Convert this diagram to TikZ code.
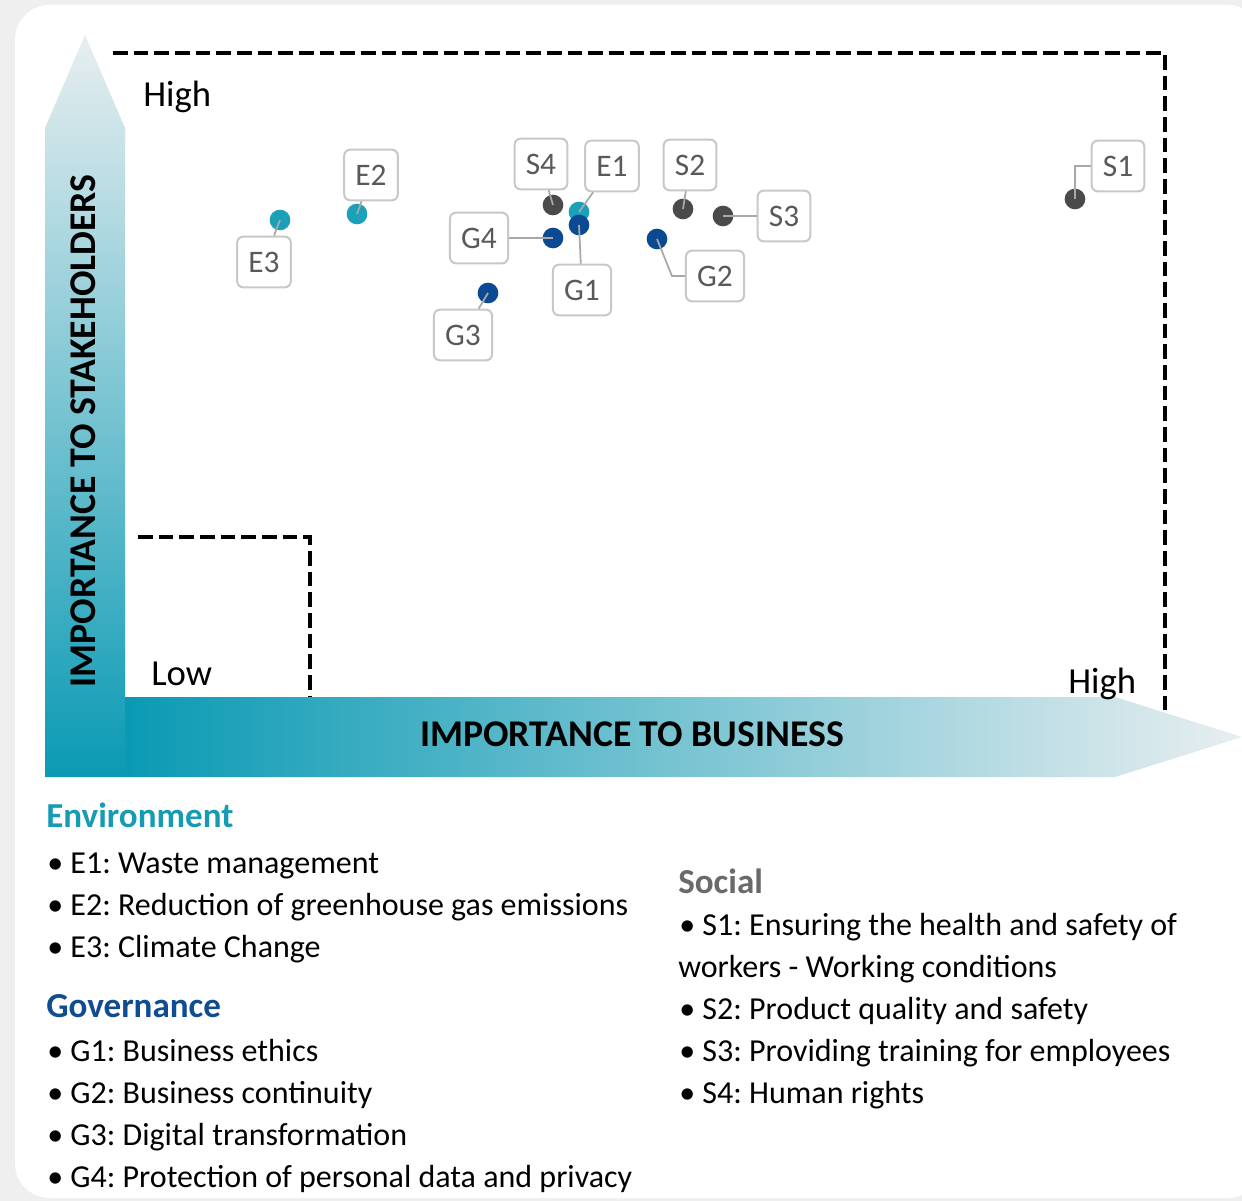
\documentclass[tikz,border=0pt]{standalone}
\usepackage{fontspec}
\setmainfont{Carlito}
\frenchspacing
\usetikzlibrary{calc}
\definecolor{bgGrey}{HTML}{EFEFEF}
\definecolor{tealD}{HTML}{0A9AB4}
\definecolor{paleA}{HTML}{E8EEF0}
\definecolor{envC}{HTML}{1AA0B8}
\definecolor{govC}{HTML}{0B4A93}
\definecolor{socC}{HTML}{4A4A4A}
\definecolor{envH}{HTML}{179BB5}
\definecolor{govH}{HTML}{0F4C92}
\definecolor{socH}{HTML}{6A6A6A}
\definecolor{boxB}{HTML}{C8C8C8}
\definecolor{boxT}{HTML}{595959}
\definecolor{conn}{HTML}{A8A8A8}
\begin{document}
\begin{tikzpicture}[x=0.75pt,y=-0.75pt,
  dotE/.style={circle,fill=envC,inner sep=0,minimum size=15.5},
  dotG/.style={circle,fill=govC,inner sep=0,minimum size=15.5},
  dotS/.style={circle,fill=socC,inner sep=0,minimum size=15.5},
  lbl/.style={draw=boxB,line width=1.5pt,fill=white,rounded corners=4.5pt,
    text=boxT,font=\fontsize{23.5}{26}\selectfont,inner xsep=8.4pt,minimum height=38pt},
  link/.style={draw=conn,line width=1.3pt},
  dashln/.style={line width=2.6pt,dash pattern=on 11pt off 4.5pt},
  legtxt/.style={anchor=base west,inner sep=0,font=\fontsize{24}{28}\selectfont},
  leghead/.style={anchor=base west,inner sep=0,font=\fontsize{26.3}{30}\selectfont\bfseries},
  hilo/.style={anchor=base west,inner sep=0,font=\fontsize{27.5}{32}\selectfont},
  axtitle/.style={inner sep=0,font=\fontsize{28.3}{34}\selectfont\bfseries}
]
\useasboundingbox (0,0) rectangle (1242,1201);
\fill[bgGrey] (0,0) rectangle (1242,1201);
\fill[white,rounded corners=26pt] (15,5) rectangle (1262,1198);

% dashed zones
\draw[dashln] (113,53) -- (1165,53) -- (1165,714);
\draw[dashln] (138,537) -- (310,537) -- (310,697);

% axes arrows
\shade[top color=paleA,bottom color=tealD]
  (45,777) -- (45,128) -- (85,35) -- (125,128) -- (125,777) -- cycle;
\shade[left color=tealD,right color=paleA]
  (125,697) -- (1115,697) -- (1242,737) -- (1115,777) -- (125,777) -- cycle;

\node[axtitle,rotate=90] (ay) at (83,431) {IMPORTANCE TO STAKEHOLDERS};
\node[axtitle] (ax) at (632,734) {IMPORTANCE TO BUSINESS};

\node[hilo] (hiY) at (143,107) {High};
\node[hilo] (lo) at (151,685) {Low};
\node[hilo] (hiX) at (1068,693) {High};

% points
\node[dotE] (dE3) at (280,220) {};
\node[dotE] (dE2) at (357,214) {};
\node[dotS] (dS4) at (553,205) {};
\node[dotE] (dE1) at (579,212) {};
\node[dotG] (dG1) at (579,225) {};
\node[dotG] (dG4) at (553,238) {};
\node[dotS] (dS2) at (683,209) {};
\node[dotS] (dS3) at (723,216) {};
\node[dotG] (dG2) at (657,239) {};
\node[dotG] (dG3) at (488,293) {};
\node[dotS] (dS1) at (1075,199) {};

% labels
\node[lbl] (bE3) at (264,262) {E3};
\node[lbl] (bE2) at (371,175) {E2};
\node[lbl] (bS4) at (541,164) {S4};
\node[lbl] (bE1) at (612,166) {E1};
\node[lbl] (bG1) at (582,290) {G1};
\node[lbl] (bG4) at (479,238) {G4};
\node[lbl] (bS2) at (690,165) {S2};
\node[lbl] (bS3) at (784,216) {S3};
\node[lbl] (bG2) at (715,276) {G2};
\node[lbl] (bG3) at (463,335) {G3};
\node[lbl] (bS1) at (1118,166) {S1};

% connectors
\draw[link] (dE3.center) -- (bE3);
\draw[link] (dE2.center) -- (bE2);
\draw[link] (dS4.center) -- (bS4);
\draw[link] (dE1.center) -- (bE1);
\draw[link] (dG1.center) -- (bG1);
\draw[link] (dG4.center) -- (bG4);
\draw[link] (dS2.center) -- (bS2);
\draw[link] (dS3.center) -- (bS3);
\draw[link] (dG2.center) -- ($(bG2.west)+(-13,0)$) -- (bG2.west);
\draw[link] (dG3.center) -- (bG3);
\draw[link] (dS1.center) |- (bS1.west);

% legend
\node[leghead,text=envH] (hE) at (46,827) {Environment};
\node[legtxt] (lE1) at (47,873) {• E1: Waste management};
\node[legtxt] (lE2) at (47,915) {• E2: Reduction of greenhouse gas emissions};
\node[legtxt] (lE3) at (47,957) {• E3: Climate Change};
\node[leghead,text=govH] (hG) at (46,1017) {Governance};
\node[legtxt] (lG1) at (47,1061) {• G1: Business ethics};
\node[legtxt] (lG2) at (47,1103) {• G2: Business continuity};
\node[legtxt] (lG3) at (47,1145) {• G3: Digital transformation};
\node[legtxt] (lG4) at (47,1187) {• G4: Protection of personal data and privacy};
\node[leghead,text=socH] (hS) at (678,893) {Social};
\node[legtxt] (lS1) at (679,935) {• S1: Ensuring the health and safety of};
\node[legtxt] (lS1b) at (678,977) {workers - Working conditions};
\node[legtxt] (lS2) at (679,1019) {• S2: Product quality and safety};
\node[legtxt] (lS3) at (679,1061) {• S3: Providing training for employees};
\node[legtxt] (lS4) at (679,1103) {• S4: Human rights};
\end{tikzpicture}
\end{document}
